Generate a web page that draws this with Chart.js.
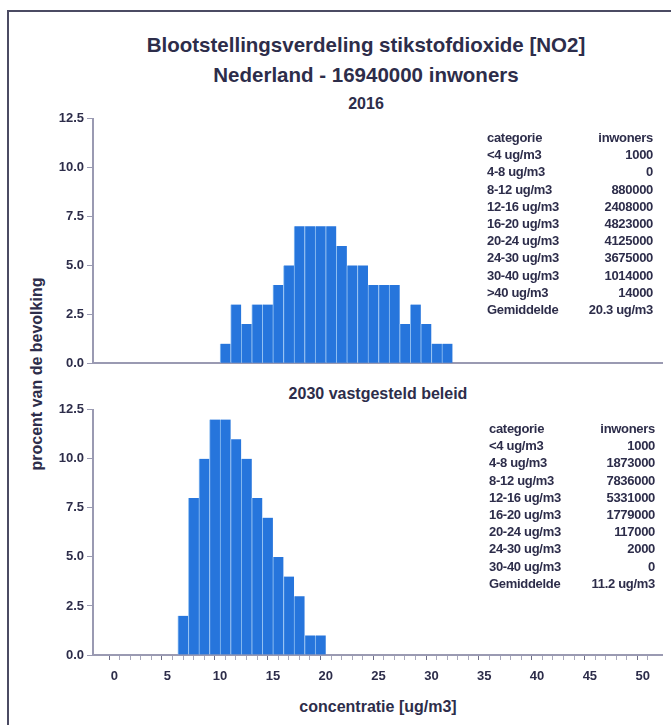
<!DOCTYPE html>
<html lang="nl">
<head>
<meta charset="UTF-8">
<script src="https://cdn.jsdelivr.net/npm/chart.js"></script>
<style>
  html, body { margin: 0; background: #fff; overflow: hidden; }
  #wrap { position: relative; width: 671px; height: 725px; overflow: hidden;
          font-family: "Liberation Sans", Arial, sans-serif; color: #2d2d4a; }
  .line { position: absolute; background: #4b4b63; }
  .t { position: absolute; left: 66px; width: 600px; text-align: center; font-weight: bold; }
  canvas { position: absolute; left: 0; }
  .tab { position: absolute; width: 166px; font-family: "Liberation Sans Narrow", "Liberation Sans", Arial, sans-serif;
         font-weight: bold; font-size: 13px; line-height: 17.2px; letter-spacing: -0.3px; }
  .tab div { display: flex; justify-content: space-between; }
  .ytitle { position: absolute; left: 37px; top: 374px; transform: translate(-50%, -50%) rotate(-90deg);
            white-space: nowrap; font-weight: bold; font-size: 16px; }
</style>
</head>
<body>
<div id="wrap">
  <div class="line" style="left:7px;top:10px;width:664px;height:2px"></div>
  <div class="line" style="left:7px;top:10px;width:2px;height:715px"></div>
  <div class="t" style="top:33px;font-size:20.5px;">Blootstellingsverdeling stikstofdioxide [NO2]</div>
  <div class="t" style="top:63px;font-size:20.5px;">Nederland - 16940000 inwoners</div>
  <div class="t" style="top:95px;font-size:16px;">2016</div>
  <div class="t" style="top:385px;left:78px;font-size:16px;">2030 vastgesteld beleid</div>
  <div class="ytitle">procent van de bevolking</div>
  <div class="t" style="top:698px;left:78px;font-size:16px;">concentratie [ug/m3]</div>
  <canvas id="c2016" width="671" height="266" style="top:108px"></canvas>
  <canvas id="c2030" width="671" height="301" style="top:399px"></canvas>
  <div class="tab" id="tab2016" style="left:487px;top:129px"></div>
  <div class="tab" id="tab2030" style="left:489px;top:420px"></div>
</div>
<script>
// histogram bins (lower edge, ug/m3) and percentage of population
const bins2016 = [10, 11, 12, 13, 14, 15, 16, 17, 18, 19, 20, 21, 22, 23, 24, 25, 26, 27, 28, 29, 30, 31];
const pct2016 = [1.0, 3.0, 2.0, 3.0, 3.0, 4.0, 5.0, 7.0, 7.0, 7.0, 7.0, 6.0, 5.0, 5.0, 4.0, 4.0, 4.0, 2.0, 3.0, 2.0, 1.0, 1.0];
const bins2030 = [6, 7, 8, 9, 10, 11, 12, 13, 14, 15, 16, 17, 18, 19];
const pct2030 = [2.0, 8.0, 10.0, 12.0, 12.0, 11.0, 10.0, 8.0, 7.0, 5.0, 4.0, 3.0, 1.0, 1.0];

// tables
const cat2016 = ['<4 ug/m3', '4-8 ug/m3', '8-12 ug/m3', '12-16 ug/m3', '16-20 ug/m3', '20-24 ug/m3', '24-30 ug/m3', '30-40 ug/m3', '>40 ug/m3'];
const inw2016 = [1000, 0, 880000, 2408000, 4823000, 4125000, 3675000, 1014000, 14000];
const avg2016 = '20.3 ug/m3';
const cat2030 = ['<4 ug/m3', '4-8 ug/m3', '8-12 ug/m3', '12-16 ug/m3', '16-20 ug/m3', '20-24 ug/m3', '24-30 ug/m3', '30-40 ug/m3'];
const inw2030 = [1000, 1873000, 7836000, 5331000, 1779000, 117000, 2000, 0];
const avg2030 = '11.2 ug/m3';

const yTicks = [0, 2.5, 5, 7.5, 10, 12.5];
const xLabelStep = 5;

const ink = '#2d2d4a';
const axisCol = '#9a9ab2';

function fillTable(id, cats, vals, avg) {
  let html = '<div><span>categorie</span><span>inwoners</span></div>';
  for (let i = 0; i < cats.length; i++) {
    html += '<div><span>' + cats[i].replace('<', '&lt;').replace('>', '&gt;') + '</span><span>' + vals[i] + '</span></div>';
  }
  html += '<div><span>Gemiddelde</span><span>' + avg + '</span></div>';
  document.getElementById(id).innerHTML = html;
}
fillTable('tab2016', cat2016, inw2016, avg2016);
fillTable('tab2030', cat2030, inw2030, avg2030);

function makeChart(id, bins, pct, showX) {
  const data = bins.map((b, i) => ({ x: b + 0.5, y: pct[i] }));
  return new Chart(document.getElementById(id), {
    type: 'bar',
    data: {
      datasets: [{
        data: data,
        backgroundColor: '#2675dc',
        borderColor: '#92c0f2',
        borderWidth: { left: 1, right: 0, top: 0, bottom: 0 },
        borderSkipped: false,
        barPercentage: 1.0,
        categoryPercentage: 1.0
      }]
    },
    options: {
      responsive: false,
      animation: false,
      devicePixelRatio: 1,
      layout: { padding: { top: 10, right: 9, left: 0, bottom: 0 } },
      plugins: { legend: { display: false }, tooltip: { enabled: false } },
      scales: {
        x: {
          type: 'linear',
          min: -1.5,
          max: 51.3,
          afterBuildTicks: s => { s.ticks = []; for (let v = 0; v <= 50; v++) s.ticks.push({ value: v }); },
          afterFit: s => { s.height = showX ? 45 : 10; },
          ticks: {
            display: showX,
            autoSkip: false,
            maxRotation: 0,
            padding: 9,
            color: ink,
            font: { family: 'Liberation Sans', size: 13, weight: 'bold' },
            callback: v => (v % xLabelStep === 0 ? v : '')
          },
          grid: {
            drawOnChartArea: false,
            drawTicks: showX,
            tickLength: 5,
            tickWidth: 1,
            tickColor: c => (c.tick && c.tick.value % 5 === 0 ? '#6e6e88' : '#a8a8bc')
          },
          border: { display: true, color: axisCol, width: 2 }
        },
        y: {
          min: 0,
          max: 12.5,
          afterBuildTicks: s => { s.ticks = yTicks.map(v => ({ value: v })); },
          afterFit: s => { s.width = 93; },
          ticks: {
            padding: 3,
            color: ink,
            font: { family: 'Liberation Sans', size: 13, weight: 'bold' },
            callback: v => v.toFixed(1)
          },
          grid: { drawOnChartArea: false, drawTicks: true, tickLength: 6, tickColor: axisCol },
          border: { display: true, color: axisCol, width: 2 }
        }
      }
    }
  });
}

makeChart('c2016', bins2016, pct2016, false);
makeChart('c2030', bins2030, pct2030, true);
</script>
</body>
</html>
